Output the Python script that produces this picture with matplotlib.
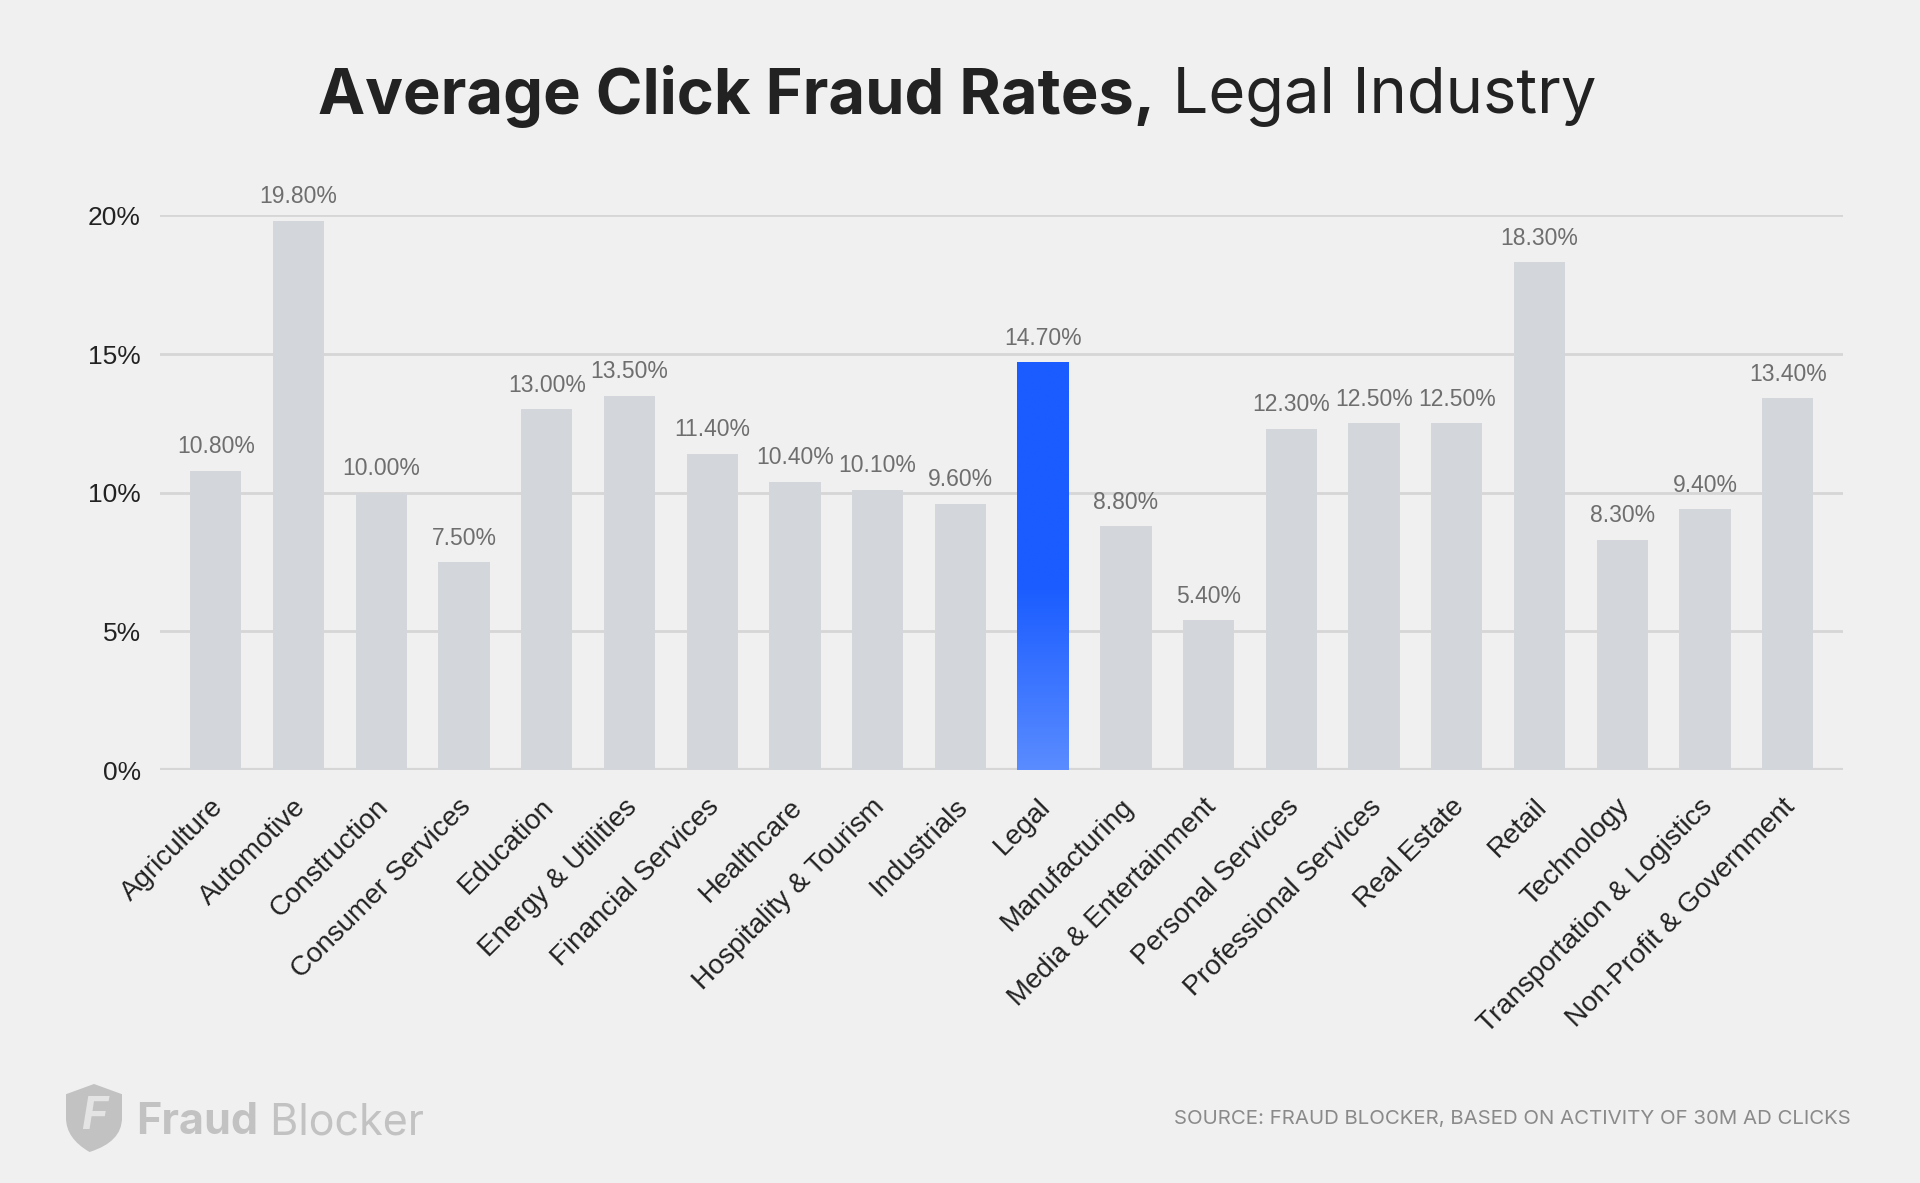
import numpy as np
import matplotlib
matplotlib.use("Agg")
import matplotlib.pyplot as plt
from matplotlib.path import Path
from matplotlib.patches import PathPatch
from matplotlib.colors import LinearSegmentedColormap

industries = ["Agriculture", "Automotive", "Construction", "Consumer Services",
              "Education", "Energy & Utilities", "Financial Services", "Healthcare",
              "Hospitality & Tourism", "Industrials", "Legal", "Manufacturing",
              "Media & Entertainment", "Personal Services", "Professional Services",
              "Real Estate", "Retail", "Technology", "Transportation & Logistics",
              "Non-Profit & Government"]
fraud_rates = [10.8, 19.8, 10.0, 7.5, 13.0, 13.5, 11.4, 10.4, 10.1, 9.6,
               14.7, 8.8, 5.4, 12.3, 12.5, 12.5, 18.3, 8.3, 9.4, 13.4]
highlight = "Legal"
y_ticks = [0, 5, 10, 15, 20]

BG = "#f0f0f0"
GREY_BAR = "#d3d7db"
GRID = "#d6d6d6"

fig = plt.figure(figsize=(19.2, 11.83), dpi=100, facecolor=BG)
ax = fig.add_axes([0.0835, 0.349, 0.8765, 0.469])
ax.set_facecolor(BG)

x = np.arange(len(industries))
bars = ax.bar(x, fraud_rates, width=0.62, color=GREY_BAR, zorder=2)

# gradient on the highlighted bar
hi = industries.index(highlight)
hb = bars[hi]
hb.set_facecolor("none")
cmap = LinearSegmentedColormap.from_list("blue", [(0, "#5a8cff"), (0.45, "#1a5cff"), (1, "#1a5cff")])
grad = np.linspace(0, 1, 256).reshape(-1, 1)
im = ax.imshow(grad, cmap=cmap, origin="lower", aspect="auto", zorder=3,
               extent=[hb.get_x(), hb.get_x() + hb.get_width(), 0, hb.get_height()])
im.set_clip_path(hb)

for xi, v in zip(x, fraud_rates):
    ax.annotate(f"{v:.2f}%", (xi, v), xytext=(0, 9), textcoords="offset points",
                ha="center", va="bottom", fontsize=16.5, color="#6e6e6e",
                family="Liberation Sans", annotation_clip=False)

ax.set_ylim(0, 20)
ax.set_xlim(-0.67, len(industries) - 0.33)
ax.set_yticks(y_ticks)
ax.set_yticklabels([f"{t}%" for t in y_ticks], fontsize=19, color="#222222",
                   family="Liberation Sans")
ax.yaxis.grid(True, color=GRID, linewidth=2, zorder=0)
ax.set_axisbelow(True)
ax.tick_params(axis="y", length=0, pad=14)
ax.tick_params(axis="x", length=0, pad=17)
ax.set_xticks(x - 0.07)
ax.set_xticklabels(industries, rotation=45, ha="right", rotation_mode="anchor",
                   fontsize=20, color="#222222", family="Liberation Sans")
for s in ax.spines.values():
    s.set_visible(False)
ax.axhline(0, color=GRID, linewidth=3, zorder=1)

# title: bold part + regular part centred together
renderer = fig.canvas.get_renderer()
ty = 1 - 96 / 1183
t1 = fig.text(0, ty, "Average Click Fraud Rates,", fontsize=45.5, fontweight="bold",
              family="Inter", color="#222222", va="center")
t2 = fig.text(0, ty, " Legal Industry", fontsize=45.5, family="Inter",
              color="#222222", va="center")
w1 = t1.get_window_extent(renderer).width
w2 = t2.get_window_extent(renderer).width
start = (1920 * 0.4985 - (w1 + w2) / 2) / 1920
t1.set_x(start)
t2.set_x(start + w1 / 1920)

# logo
LOGO = "#c2c2c2"
sx, sy, sw, sh = 66 / 1920, 1 - 1152 / 1183, 56 / 1920, 68 / 1183
shield = [(0.0, 0.85), (0.5, 1.0), (1.0, 0.85), (1.0, 0.5), (1.0, 0.15), (0.42, 0.0),
          (0.0, 0.2), (0.0, 0.5), (0.0, 0.85)]
codes = [Path.MOVETO, Path.LINETO, Path.LINETO, Path.LINETO, Path.CURVE3, Path.CURVE3,
         Path.CURVE3, Path.CURVE3, Path.CLOSEPOLY]
verts = [(sx + px * sw, sy + py * sh) for px, py in shield]
fig.patches.append(PathPatch(Path(verts, codes), facecolor=LOGO, edgecolor="none",
                             transform=fig.transFigure, figure=fig))
fig.text(sx + sw * 0.5, sy + sh * 0.52, "F", fontsize=32, fontweight="bold", family="Inter",
         color="#e4e4e4", ha="center", va="center", style="italic")
ly = 1 - 1123 / 1183
f1 = fig.text(136 / 1920, ly, "Fraud", fontsize=31, fontweight="bold",
              family="Inter", color=LOGO, va="center")
fw = f1.get_window_extent(renderer).width
fig.text(136 / 1920 + fw / 1920, ly, " Blocker", fontsize=31,
         family="Inter", color=LOGO, va="center")

fig.text(1851 / 1920, 1 - 1119 / 1183, "SOURCE: FRAUD BLOCKER, BASED ON ACTIVITY OF 30M AD CLICKS",
         fontsize=14.7, family="Inter", color="#8a8a8a", ha="right", va="center")

fig.savefig("out.png", dpi=100, facecolor=BG)
